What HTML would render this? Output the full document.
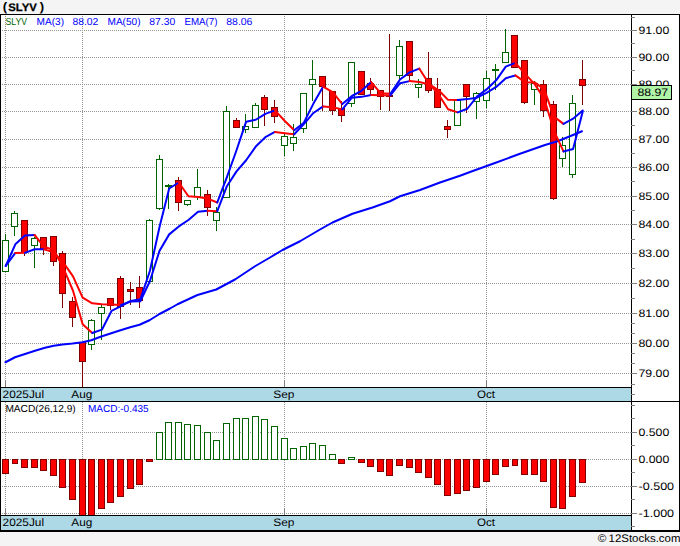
<!DOCTYPE html>
<html><head><meta charset="utf-8"><title>SLYV</title>
<style>html,body{margin:0;padding:0;background:#f4f4f4;overflow:hidden}body{width:680px;height:546px;font-family:"Liberation Sans",sans-serif}</style>
</head><body>
<svg width="680" height="546" viewBox="0 0 680 546" style="display:block">
<rect x="0" y="0" width="680" height="546" fill="#f4f4f4"/>
<rect x="0" y="14" width="680" height="518" fill="#ffffff" shape-rendering="crispEdges"/>
<g stroke="#969696" stroke-width="1" stroke-dasharray="1 1" shape-rendering="crispEdges" fill="none">
<line x1="0" y1="30.5" x2="631" y2="30.5"/>
<line x1="0" y1="57.5" x2="631" y2="57.5"/>
<line x1="0" y1="84.5" x2="631" y2="84.5"/>
<line x1="0" y1="111.5" x2="631" y2="111.5"/>
<line x1="0" y1="139.5" x2="631" y2="139.5"/>
<line x1="0" y1="167.5" x2="631" y2="167.5"/>
<line x1="0" y1="196.5" x2="631" y2="196.5"/>
<line x1="0" y1="224.5" x2="631" y2="224.5"/>
<line x1="0" y1="253.5" x2="631" y2="253.5"/>
<line x1="0" y1="283.5" x2="631" y2="283.5"/>
<line x1="0" y1="313.5" x2="631" y2="313.5"/>
<line x1="0" y1="343.5" x2="631" y2="343.5"/>
<line x1="0" y1="373.5" x2="631" y2="373.5"/>
<line x1="0" y1="432.5" x2="631" y2="432.5"/>
<line x1="0" y1="459.5" x2="631" y2="459.5"/>
<line x1="0" y1="486.5" x2="631" y2="486.5"/>
<line x1="0" y1="513.5" x2="631" y2="513.5"/>
<line x1="5.5" y1="14" x2="5.5" y2="387"/>
<line x1="5.5" y1="402" x2="5.5" y2="515"/>
<line x1="82.5" y1="14" x2="82.5" y2="387"/>
<line x1="82.5" y1="402" x2="82.5" y2="515"/>
<line x1="284.5" y1="14" x2="284.5" y2="387"/>
<line x1="284.5" y1="402" x2="284.5" y2="515"/>
<line x1="486.5" y1="14" x2="486.5" y2="387"/>
<line x1="486.5" y1="402" x2="486.5" y2="515"/>
</g>
<g stroke="#808080" stroke-width="1" shape-rendering="crispEdges">
<line x1="5.5" y1="381" x2="5.5" y2="387"/>
<line x1="5.5" y1="509" x2="5.5" y2="515"/>
<line x1="82.5" y1="381" x2="82.5" y2="387"/>
<line x1="82.5" y1="509" x2="82.5" y2="515"/>
<line x1="284.5" y1="381" x2="284.5" y2="387"/>
<line x1="284.5" y1="509" x2="284.5" y2="515"/>
<line x1="486.5" y1="381" x2="486.5" y2="387"/>
<line x1="486.5" y1="509" x2="486.5" y2="515"/>
</g>
<g shape-rendering="crispEdges" stroke-width="1">
<rect x="2.5" y="459.5" width="6" height="14" fill="#ff0000" stroke="#800000"/>
<rect x="12.5" y="459.5" width="5" height="4" fill="#ff0000" stroke="#800000"/>
<rect x="21.5" y="459.5" width="6" height="8" fill="#ff0000" stroke="#800000"/>
<rect x="31.5" y="459.5" width="6" height="8" fill="#ff0000" stroke="#800000"/>
<rect x="40.5" y="459.5" width="6" height="11" fill="#ff0000" stroke="#800000"/>
<rect x="50.5" y="459.5" width="6" height="16" fill="#ff0000" stroke="#800000"/>
<rect x="59.5" y="459.5" width="6" height="28" fill="#ff0000" stroke="#800000"/>
<rect x="69.5" y="459.5" width="6" height="40" fill="#ff0000" stroke="#800000"/>
<rect x="79.5" y="459.5" width="6" height="56" fill="#ff0000" stroke="#800000"/>
<rect x="88.5" y="459.5" width="6" height="56" fill="#ff0000" stroke="#800000"/>
<rect x="98.5" y="459.5" width="6" height="49" fill="#ff0000" stroke="#800000"/>
<rect x="107.5" y="459.5" width="6" height="43" fill="#ff0000" stroke="#800000"/>
<rect x="117.5" y="459.5" width="6" height="37" fill="#ff0000" stroke="#800000"/>
<rect x="127.5" y="459.5" width="6" height="29" fill="#ff0000" stroke="#800000"/>
<rect x="136.5" y="459.5" width="6" height="25" fill="#ff0000" stroke="#800000"/>
<rect x="146.5" y="459.5" width="6" height="2" fill="#ff0000" stroke="#800000"/>
<rect x="156.5" y="432.5" width="6" height="27" fill="#ffffff" stroke="#006400"/>
<rect x="165.5" y="422.5" width="6" height="37" fill="#ffffff" stroke="#006400"/>
<rect x="175.5" y="422.5" width="6" height="37" fill="#ffffff" stroke="#006400"/>
<rect x="184.5" y="424.5" width="6" height="35" fill="#ffffff" stroke="#006400"/>
<rect x="194.5" y="425.5" width="6" height="34" fill="#ffffff" stroke="#006400"/>
<rect x="204.5" y="432.5" width="6" height="27" fill="#ffffff" stroke="#006400"/>
<rect x="213.5" y="440.5" width="6" height="19" fill="#ffffff" stroke="#006400"/>
<rect x="223.5" y="423.5" width="6" height="36" fill="#ffffff" stroke="#006400"/>
<rect x="233.5" y="418.5" width="6" height="41" fill="#ffffff" stroke="#006400"/>
<rect x="242.5" y="418.5" width="6" height="41" fill="#ffffff" stroke="#006400"/>
<rect x="252.5" y="416.5" width="6" height="43" fill="#ffffff" stroke="#006400"/>
<rect x="261.5" y="419.5" width="6" height="40" fill="#ffffff" stroke="#006400"/>
<rect x="271.5" y="426.5" width="6" height="33" fill="#ffffff" stroke="#006400"/>
<rect x="281.5" y="438.5" width="6" height="21" fill="#ffffff" stroke="#006400"/>
<rect x="290.5" y="448.5" width="6" height="11" fill="#ffffff" stroke="#006400"/>
<rect x="300.5" y="446.5" width="6" height="13" fill="#ffffff" stroke="#006400"/>
<rect x="309.5" y="443.5" width="6" height="16" fill="#ffffff" stroke="#006400"/>
<rect x="319.5" y="445.5" width="6" height="14" fill="#ffffff" stroke="#006400"/>
<rect x="329.5" y="454.5" width="6" height="5" fill="#ffffff" stroke="#006400"/>
<rect x="338.5" y="459.5" width="6" height="4" fill="#ff0000" stroke="#800000"/>
<rect x="348.5" y="457.5" width="6" height="2" fill="#ffffff" stroke="#006400"/>
<rect x="358.5" y="459.5" width="6" height="3" fill="#ff0000" stroke="#800000"/>
<rect x="367.5" y="459.5" width="6" height="7" fill="#ff0000" stroke="#800000"/>
<rect x="377.5" y="459.5" width="6" height="12" fill="#ff0000" stroke="#800000"/>
<rect x="386.5" y="459.5" width="6" height="16" fill="#ff0000" stroke="#800000"/>
<rect x="396.5" y="459.5" width="6" height="6" fill="#ff0000" stroke="#800000"/>
<rect x="406.5" y="459.5" width="6" height="8" fill="#ff0000" stroke="#800000"/>
<rect x="415.5" y="459.5" width="6" height="13" fill="#ff0000" stroke="#800000"/>
<rect x="425.5" y="459.5" width="6" height="18" fill="#ff0000" stroke="#800000"/>
<rect x="434.5" y="459.5" width="6" height="25" fill="#ff0000" stroke="#800000"/>
<rect x="444.5" y="459.5" width="6" height="36" fill="#ff0000" stroke="#800000"/>
<rect x="454.5" y="459.5" width="6" height="34" fill="#ff0000" stroke="#800000"/>
<rect x="463.5" y="459.5" width="6" height="31" fill="#ff0000" stroke="#800000"/>
<rect x="473.5" y="459.5" width="6" height="28" fill="#ff0000" stroke="#800000"/>
<rect x="483.5" y="459.5" width="6" height="22" fill="#ff0000" stroke="#800000"/>
<rect x="492.5" y="459.5" width="6" height="15" fill="#ff0000" stroke="#800000"/>
<rect x="502.5" y="459.5" width="6" height="7" fill="#ff0000" stroke="#800000"/>
<rect x="512.5" y="459.5" width="5" height="6" fill="#ff0000" stroke="#800000"/>
<rect x="521.5" y="459.5" width="6" height="15" fill="#ff0000" stroke="#800000"/>
<rect x="531.5" y="459.5" width="6" height="15" fill="#ff0000" stroke="#800000"/>
<rect x="540.5" y="459.5" width="6" height="22" fill="#ff0000" stroke="#800000"/>
<rect x="550.5" y="459.5" width="6" height="48" fill="#ff0000" stroke="#800000"/>
<rect x="559.5" y="459.5" width="6" height="49" fill="#ff0000" stroke="#800000"/>
<rect x="569.5" y="459.5" width="6" height="37" fill="#ff0000" stroke="#800000"/>
<rect x="579.5" y="459.5" width="6" height="23" fill="#ff0000" stroke="#800000"/>
</g>
<g shape-rendering="crispEdges" stroke-width="1">
<line x1="5.5" y1="234" x2="5.5" y2="272" stroke="#006400"/>
<rect x="2.5" y="240.5" width="6" height="31" fill="#ffffff" stroke="#006400"/>
<line x1="14.5" y1="211" x2="14.5" y2="236" stroke="#006400"/>
<rect x="11.5" y="213.5" width="6" height="13" fill="#ffffff" stroke="#006400"/>
<line x1="24.5" y1="220" x2="24.5" y2="256" stroke="#800000"/>
<rect x="21.5" y="220.5" width="6" height="32" fill="#ff0000" stroke="#800000"/>
<line x1="34.5" y1="237" x2="34.5" y2="268" stroke="#006400"/>
<rect x="31.5" y="238.5" width="6" height="7" fill="#ffffff" stroke="#006400"/>
<line x1="43.5" y1="237" x2="43.5" y2="255" stroke="#800000"/>
<rect x="40.5" y="237.5" width="6" height="12" fill="#ff0000" stroke="#800000"/>
<line x1="53.5" y1="236" x2="53.5" y2="266" stroke="#800000"/>
<rect x="50.5" y="236.5" width="6" height="25" fill="#ff0000" stroke="#800000"/>
<line x1="62.5" y1="251" x2="62.5" y2="308" stroke="#800000"/>
<rect x="59.5" y="253.5" width="6" height="40" fill="#ff0000" stroke="#800000"/>
<line x1="72.5" y1="297" x2="72.5" y2="327" stroke="#800000"/>
<rect x="69.5" y="301.5" width="6" height="16" fill="#ff0000" stroke="#800000"/>
<line x1="82.5" y1="342" x2="82.5" y2="387" stroke="#800000"/>
<rect x="79.5" y="342.5" width="6" height="19" fill="#ff0000" stroke="#800000"/>
<line x1="91.5" y1="319" x2="91.5" y2="350" stroke="#006400"/>
<rect x="88.5" y="320.5" width="6" height="24" fill="#ffffff" stroke="#006400"/>
<line x1="101.5" y1="304" x2="101.5" y2="340" stroke="#006400"/>
<rect x="98.5" y="307.5" width="6" height="6" fill="#ffffff" stroke="#006400"/>
<line x1="110.5" y1="298" x2="110.5" y2="310" stroke="#800000"/>
<rect x="107.5" y="298.5" width="6" height="7" fill="#ff0000" stroke="#800000"/>
<line x1="120.5" y1="276" x2="120.5" y2="319" stroke="#800000"/>
<rect x="117.5" y="278.5" width="6" height="28" fill="#ff0000" stroke="#800000"/>
<line x1="130.5" y1="282" x2="130.5" y2="305" stroke="#800000"/>
<rect x="127.5" y="289.5" width="6" height="2" fill="#ff0000" stroke="#800000"/>
<line x1="139.5" y1="276" x2="139.5" y2="308" stroke="#800000"/>
<rect x="136.5" y="287.5" width="6" height="13" fill="#ff0000" stroke="#800000"/>
<line x1="149.5" y1="219" x2="149.5" y2="282" stroke="#006400"/>
<rect x="146.5" y="220.5" width="6" height="61" fill="#ffffff" stroke="#006400"/>
<line x1="159.5" y1="155" x2="159.5" y2="210" stroke="#006400"/>
<rect x="156.5" y="159.5" width="6" height="49" fill="#ffffff" stroke="#006400"/>
<line x1="168.5" y1="184" x2="168.5" y2="209" stroke="#006400"/>
<line x1="165" y1="185.5" x2="172" y2="185.5" stroke="#006400" stroke-width="2"/>
<line x1="178.5" y1="177" x2="178.5" y2="211" stroke="#800000"/>
<rect x="175.5" y="180.5" width="6" height="22" fill="#ff0000" stroke="#800000"/>
<line x1="187.5" y1="200" x2="187.5" y2="206" stroke="#006400"/>
<rect x="184.5" y="200.5" width="6" height="4" fill="#ffffff" stroke="#006400"/>
<line x1="197.5" y1="169" x2="197.5" y2="200" stroke="#006400"/>
<rect x="194.5" y="187.5" width="6" height="9" fill="#ffffff" stroke="#006400"/>
<line x1="207.5" y1="190" x2="207.5" y2="216" stroke="#800000"/>
<rect x="204.5" y="194.5" width="6" height="13" fill="#ff0000" stroke="#800000"/>
<line x1="216.5" y1="207" x2="216.5" y2="231" stroke="#006400"/>
<rect x="213.5" y="212.5" width="6" height="8" fill="#ffffff" stroke="#006400"/>
<line x1="226.5" y1="106" x2="226.5" y2="198" stroke="#006400"/>
<rect x="223.5" y="111.5" width="6" height="86" fill="#ffffff" stroke="#006400"/>
<line x1="236.5" y1="118" x2="236.5" y2="128" stroke="#800000"/>
<rect x="233.5" y="120.5" width="6" height="7" fill="#ff0000" stroke="#800000"/>
<line x1="245.5" y1="114" x2="245.5" y2="133" stroke="#006400"/>
<rect x="242.5" y="126.5" width="6" height="3" fill="#ffffff" stroke="#006400"/>
<line x1="255.5" y1="103" x2="255.5" y2="128" stroke="#006400"/>
<rect x="252.5" y="105.5" width="6" height="22" fill="#ffffff" stroke="#006400"/>
<line x1="264.5" y1="95" x2="264.5" y2="126" stroke="#800000"/>
<rect x="261.5" y="97.5" width="6" height="12" fill="#ff0000" stroke="#800000"/>
<line x1="274.5" y1="100" x2="274.5" y2="123" stroke="#800000"/>
<rect x="271.5" y="107.5" width="6" height="9" fill="#ff0000" stroke="#800000"/>
<line x1="284.5" y1="134" x2="284.5" y2="156" stroke="#006400"/>
<rect x="281.5" y="136.5" width="6" height="9" fill="#ffffff" stroke="#006400"/>
<line x1="293.5" y1="124" x2="293.5" y2="151" stroke="#006400"/>
<rect x="290.5" y="137.5" width="6" height="6" fill="#ffffff" stroke="#006400"/>
<line x1="303.5" y1="93" x2="303.5" y2="133" stroke="#006400"/>
<rect x="300.5" y="93.5" width="6" height="35" fill="#ffffff" stroke="#006400"/>
<line x1="312.5" y1="60" x2="312.5" y2="101" stroke="#006400"/>
<rect x="309.5" y="79.5" width="6" height="5" fill="#ffffff" stroke="#006400"/>
<line x1="322.5" y1="76" x2="322.5" y2="111" stroke="#800000"/>
<rect x="319.5" y="76.5" width="6" height="10" fill="#ff0000" stroke="#800000"/>
<line x1="332.5" y1="91" x2="332.5" y2="115" stroke="#800000"/>
<rect x="329.5" y="91.5" width="6" height="19" fill="#ff0000" stroke="#800000"/>
<line x1="341.5" y1="101" x2="341.5" y2="122" stroke="#800000"/>
<rect x="338.5" y="108.5" width="6" height="7" fill="#ff0000" stroke="#800000"/>
<line x1="351.5" y1="62" x2="351.5" y2="107" stroke="#006400"/>
<rect x="348.5" y="62.5" width="6" height="41" fill="#ffffff" stroke="#006400"/>
<line x1="361.5" y1="71" x2="361.5" y2="95" stroke="#800000"/>
<rect x="358.5" y="71.5" width="6" height="23" fill="#ff0000" stroke="#800000"/>
<line x1="370.5" y1="78" x2="370.5" y2="94" stroke="#800000"/>
<rect x="367.5" y="83.5" width="6" height="6" fill="#ff0000" stroke="#800000"/>
<line x1="380.5" y1="90" x2="380.5" y2="110" stroke="#800000"/>
<rect x="377.5" y="90.5" width="6" height="6" fill="#ff0000" stroke="#800000"/>
<line x1="389.5" y1="34" x2="389.5" y2="111" stroke="#800000"/>
<rect x="386.5" y="95.5" width="6" height="1" fill="#ff0000" stroke="#800000"/>
<line x1="399.5" y1="40" x2="399.5" y2="80" stroke="#006400"/>
<rect x="396.5" y="46.5" width="6" height="29" fill="#ffffff" stroke="#006400"/>
<line x1="409.5" y1="41" x2="409.5" y2="80" stroke="#800000"/>
<rect x="406.5" y="41.5" width="6" height="34" fill="#ff0000" stroke="#800000"/>
<line x1="418.5" y1="79" x2="418.5" y2="98" stroke="#006400"/>
<rect x="415.5" y="84.5" width="6" height="3" fill="#ffffff" stroke="#006400"/>
<line x1="428.5" y1="52" x2="428.5" y2="93" stroke="#800000"/>
<rect x="425.5" y="78.5" width="6" height="12" fill="#ff0000" stroke="#800000"/>
<line x1="437.5" y1="78" x2="437.5" y2="108" stroke="#800000"/>
<rect x="434.5" y="89.5" width="6" height="18" fill="#ff0000" stroke="#800000"/>
<line x1="447.5" y1="120" x2="447.5" y2="138" stroke="#800000"/>
<rect x="444.5" y="126.5" width="6" height="3" fill="#ff0000" stroke="#800000"/>
<line x1="457.5" y1="100" x2="457.5" y2="126" stroke="#006400"/>
<rect x="454.5" y="100.5" width="6" height="25" fill="#ffffff" stroke="#006400"/>
<line x1="466.5" y1="84" x2="466.5" y2="113" stroke="#800000"/>
<rect x="463.5" y="84.5" width="6" height="12" fill="#ff0000" stroke="#800000"/>
<line x1="476.5" y1="92" x2="476.5" y2="119" stroke="#006400"/>
<rect x="473.5" y="93.5" width="6" height="8" fill="#ffffff" stroke="#006400"/>
<line x1="486.5" y1="71" x2="486.5" y2="108" stroke="#006400"/>
<rect x="483.5" y="78.5" width="6" height="22" fill="#ffffff" stroke="#006400"/>
<line x1="495.5" y1="64" x2="495.5" y2="90" stroke="#006400"/>
<line x1="492" y1="69.5" x2="499" y2="69.5" stroke="#006400" stroke-width="2"/>
<line x1="505.5" y1="29" x2="505.5" y2="63" stroke="#006400"/>
<rect x="502.5" y="52.5" width="6" height="10" fill="#ffffff" stroke="#006400"/>
<line x1="514.5" y1="35" x2="514.5" y2="68" stroke="#800000"/>
<rect x="511.5" y="35.5" width="6" height="32" fill="#ff0000" stroke="#800000"/>
<line x1="524.5" y1="60" x2="524.5" y2="104" stroke="#800000"/>
<rect x="521.5" y="60.5" width="6" height="42" fill="#ff0000" stroke="#800000"/>
<line x1="534.5" y1="81" x2="534.5" y2="105" stroke="#006400"/>
<rect x="531.5" y="83.5" width="6" height="6" fill="#ffffff" stroke="#006400"/>
<line x1="543.5" y1="80" x2="543.5" y2="117" stroke="#800000"/>
<rect x="540.5" y="84.5" width="6" height="26" fill="#ff0000" stroke="#800000"/>
<line x1="553.5" y1="101" x2="553.5" y2="200" stroke="#800000"/>
<rect x="550.5" y="104.5" width="6" height="94" fill="#ff0000" stroke="#800000"/>
<line x1="562.5" y1="137" x2="562.5" y2="167" stroke="#006400"/>
<rect x="559.5" y="145.5" width="6" height="13" fill="#ffffff" stroke="#006400"/>
<line x1="572.5" y1="95" x2="572.5" y2="178" stroke="#006400"/>
<rect x="569.5" y="103.5" width="6" height="71" fill="#ffffff" stroke="#006400"/>
<line x1="582.5" y1="60" x2="582.5" y2="105" stroke="#800000"/>
<rect x="579.5" y="79.5" width="6" height="6" fill="#ff0000" stroke="#800000"/>
</g>
<g fill="none" stroke-width="2" stroke-linecap="round" stroke-linejoin="round">
<polyline points="5.50,362.25 15.00,357.25 25.00,354.00 35.00,350.75 45.00,347.75 53.75,345.75 62.50,344.50 72.50,343.50 82.50,342.25 91.25,340.25 101.25,336.50 111.25,333.25 120.50,330.25 130.25,327.25 139.50,324.75 149.50,320.25 159.50,314.00 170.00,308.50 177.50,304.25 197.50,295.00 216.25,289.50 235.00,279.50 255.00,266.25 270.00,257.50 282.50,250.00 300.00,241.25 320.00,229.50 332.50,222.50 352.50,213.75 372.50,207.50 390.00,201.25 400.00,196.25 420.00,190.00 440.00,182.50 460.00,175.75 470.00,172.00 495.00,163.00 520.00,153.75 545.00,145.00 557.50,141.25 570.00,136.25 582.00,131.25" stroke="#0000ff"/>
<polyline points="5.70,266.00 15.32,252.94" stroke="#0000ff"/>
<polyline points="15.32,252.94 24.93,252.83" stroke="#ff0000"/>
<polyline points="24.93,252.83 34.55,249.31 44.17,249.36" stroke="#0000ff"/>
<polyline points="44.17,249.36 53.79,252.33 63.40,262.68 73.02,276.33 82.64,297.62 92.25,303.28 101.87,304.27 111.49,304.52 121.10,304.89" stroke="#ff0000"/>
<polyline points="121.10,304.89 130.72,301.54 140.34,301.22 149.96,281.04 159.57,250.65 169.19,234.37 178.81,226.40 188.42,219.99 198.04,211.86 207.66,210.77" stroke="#0000ff"/>
<polyline points="207.66,210.77 217.27,211.21" stroke="#ff0000"/>
<polyline points="217.27,211.21 226.89,186.22 236.51,171.41 246.12,160.25 255.74,146.56 265.36,137.23 274.98,131.99" stroke="#0000ff"/>
<polyline points="274.98,131.99 284.59,133.18 294.21,134.26" stroke="#ff0000"/>
<polyline points="294.21,134.26 303.83,124.13 313.44,112.97 323.06,106.42" stroke="#0000ff"/>
<polyline points="323.06,106.42 332.68,107.31 342.30,109.36" stroke="#ff0000"/>
<polyline points="342.30,109.36 351.91,97.64 361.53,96.86 371.15,94.96" stroke="#0000ff"/>
<polyline points="371.15,94.96 380.76,95.28 390.38,95.46" stroke="#ff0000"/>
<polyline points="390.38,95.46 400.00,83.16 409.61,81.12" stroke="#0000ff"/>
<polyline points="409.61,81.12 419.23,81.96 428.85,84.16 438.47,90.00 448.08,99.87 457.70,99.90" stroke="#ff0000"/>
<polyline points="457.70,99.90 467.32,99.12 476.93,97.65 486.55,92.80 496.17,86.97 505.78,78.23 515.40,75.42" stroke="#0000ff"/>
<polyline points="515.40,75.42 525.02,82.19 534.64,82.39 544.25,89.42 553.87,116.63 563.49,123.85" stroke="#ff0000"/>
<polyline points="563.49,123.85 573.10,118.70 582.72,110.46" stroke="#0000ff"/>
<polyline points="5.70,266.00 15.32,244.33 24.93,235.58 34.55,235.00" stroke="#0000ff"/>
<polyline points="34.55,235.00 44.17,246.92 53.79,249.83 63.40,268.17 73.02,290.75 82.64,324.17 92.25,333.00" stroke="#ff0000"/>
<polyline points="92.25,333.00 101.87,329.67 111.49,310.92 121.10,306.17 130.72,300.92 140.34,299.25 149.96,270.75 159.57,226.75 169.19,188.50 178.81,182.50" stroke="#0000ff"/>
<polyline points="178.81,182.50 188.42,196.25 198.04,196.92 207.66,198.58 217.27,202.50" stroke="#ff0000"/>
<polyline points="217.27,202.50 226.89,177.08 236.51,150.25 246.12,121.67 255.74,119.75 265.36,113.83 274.98,110.33" stroke="#0000ff"/>
<polyline points="274.98,110.33 284.59,120.75 294.21,130.17" stroke="#ff0000"/>
<polyline points="294.21,130.17 303.83,122.67 313.44,103.58 323.06,86.67" stroke="#0000ff"/>
<polyline points="323.06,86.67 332.68,92.08 342.30,104.08" stroke="#ff0000"/>
<polyline points="342.30,104.08 351.91,96.00 361.53,90.83 371.15,82.08" stroke="#0000ff"/>
<polyline points="371.15,82.08 380.76,93.33 390.38,93.83" stroke="#ff0000"/>
<polyline points="390.38,93.83 400.00,79.50 409.61,72.42 419.23,68.58" stroke="#0000ff"/>
<polyline points="419.23,68.58 428.85,83.42 438.47,94.25 448.08,109.25 457.70,112.33" stroke="#ff0000"/>
<polyline points="457.70,112.33 467.32,108.75 476.93,96.67 486.55,89.42 496.17,80.33 505.78,66.58 515.40,62.83" stroke="#0000ff"/>
<polyline points="515.40,62.83 525.02,73.83 534.64,84.17 544.25,98.67 553.87,130.58 563.49,151.42" stroke="#ff0000"/>
<polyline points="563.49,151.42 573.10,149.00 582.72,111.50" stroke="#0000ff"/>
</g>
<g shape-rendering="crispEdges">
<rect x="0" y="387" width="632" height="15" fill="#add8e6"/>
<rect x="0" y="387" width="632" height="1" fill="#000"/>
<rect x="0" y="515" width="632" height="16" fill="#add8e6"/>
<rect x="0" y="515" width="632" height="1" fill="#000"/>
<rect x="0" y="401" width="680" height="1" fill="#000"/>
<rect x="0" y="14" width="680" height="1" fill="#000"/>
<rect x="0" y="530" width="680" height="2" fill="#000"/>
<rect x="0" y="14" width="1" height="518" fill="#000"/>
<rect x="679" y="14" width="1" height="518" fill="#000"/>
<rect x="631" y="14" width="1" height="518" fill="#000"/>
<g fill="#808080">
<rect x="631" y="30" width="6" height="1"/>
<rect x="631" y="57" width="6" height="1"/>
<rect x="631" y="84" width="6" height="1"/>
<rect x="631" y="111" width="6" height="1"/>
<rect x="631" y="139" width="6" height="1"/>
<rect x="631" y="167" width="6" height="1"/>
<rect x="631" y="196" width="6" height="1"/>
<rect x="631" y="224" width="6" height="1"/>
<rect x="631" y="253" width="6" height="1"/>
<rect x="631" y="283" width="6" height="1"/>
<rect x="631" y="313" width="6" height="1"/>
<rect x="631" y="343" width="6" height="1"/>
<rect x="631" y="373" width="6" height="1"/>
<rect x="631" y="432" width="6" height="1"/>
<rect x="631" y="459" width="6" height="1"/>
<rect x="631" y="486" width="6" height="1"/>
<rect x="631" y="513" width="6" height="1"/>
<rect x="631" y="17" width="4" height="1"/>
<rect x="631" y="43" width="4" height="1"/>
<rect x="631" y="70" width="4" height="1"/>
<rect x="631" y="98" width="4" height="1"/>
<rect x="631" y="125" width="4" height="1"/>
<rect x="631" y="153" width="4" height="1"/>
<rect x="631" y="181" width="4" height="1"/>
<rect x="631" y="210" width="4" height="1"/>
<rect x="631" y="239" width="4" height="1"/>
<rect x="631" y="268" width="4" height="1"/>
<rect x="631" y="298" width="4" height="1"/>
<rect x="631" y="323" width="4" height="1"/>
<rect x="631" y="333" width="4" height="1"/>
<rect x="631" y="353" width="4" height="1"/>
<rect x="631" y="363" width="4" height="1"/>
<rect x="631" y="384" width="4" height="1"/>
<rect x="631" y="394" width="4" height="1"/>
<rect x="631" y="405" width="4" height="1"/>
<rect x="631" y="418" width="4" height="1"/>
<rect x="631" y="445" width="4" height="1"/>
<rect x="631" y="472" width="4" height="1"/>
<rect x="631" y="499" width="4" height="1"/>
<rect x="631" y="526" width="4" height="1"/>
</g>
</g>
<g font-family="'Liberation Sans', sans-serif" text-rendering="geometricPrecision">
<g font-weight="bold">
<text x="2.7" y="10.6" font-size="12.4" textLength="4.4" lengthAdjust="spacingAndGlyphs">(</text>
<text x="8.3" y="10.6" font-size="10.9" stroke="#000" stroke-width="0.25" textLength="28.6" lengthAdjust="spacingAndGlyphs">SLYV</text>
<text x="39.7" y="10.6" font-size="12.4" textLength="4.4" lengthAdjust="spacingAndGlyphs">)</text>
</g>
<text x="5.4" y="25.0" font-size="10.2" fill="#006400" font-weight="normal" text-anchor="start" textLength="21.6" lengthAdjust="spacingAndGlyphs">SLYV</text>
<text x="36.6" y="25.0" font-size="10.2" fill="#0000ff" font-weight="normal" text-anchor="start" textLength="27.4" lengthAdjust="spacingAndGlyphs">MA(3)</text>
<text x="72.4" y="25.0" font-size="10.2" fill="#0000ff" font-weight="normal" text-anchor="start" textLength="26" lengthAdjust="spacingAndGlyphs">88.02</text>
<text x="107.5" y="25.0" font-size="10.2" fill="#0000ff" font-weight="normal" text-anchor="start" textLength="33" lengthAdjust="spacingAndGlyphs">MA(50)</text>
<text x="149.25" y="25.0" font-size="10.2" fill="#0000ff" font-weight="normal" text-anchor="start" textLength="26" lengthAdjust="spacingAndGlyphs">87.30</text>
<text x="184.5" y="25.0" font-size="10.2" fill="#0000ff" font-weight="normal" text-anchor="start" textLength="33" lengthAdjust="spacingAndGlyphs">EMA(7)</text>
<text x="226.25" y="25.0" font-size="10.2" fill="#0000ff" font-weight="normal" text-anchor="start" textLength="26.2" lengthAdjust="spacingAndGlyphs">88.06</text>
<text x="5.4" y="412.0" font-size="10.2" fill="#000" font-weight="normal" text-anchor="start" textLength="70.3" lengthAdjust="spacingAndGlyphs">MACD(26,12,9)</text>
<text x="88" y="412.0" font-size="10.2" fill="#0000ff" font-weight="normal" text-anchor="start" textLength="60.7" lengthAdjust="spacingAndGlyphs">MACD:-0.435</text>
<text x="2.6" y="398.2" font-size="10.9" fill="#000" font-weight="normal" text-anchor="start" textLength="41.5" lengthAdjust="spacingAndGlyphs">2025Jul</text>
<text x="71.3" y="398.2" font-size="10.9" fill="#000" font-weight="normal" text-anchor="start" textLength="21" lengthAdjust="spacingAndGlyphs">Aug</text>
<text x="273.3" y="398.2" font-size="10.9" fill="#000" font-weight="normal" text-anchor="start" textLength="21.2" lengthAdjust="spacingAndGlyphs">Sep</text>
<text x="477" y="398.2" font-size="10.9" fill="#000" font-weight="normal" text-anchor="start" textLength="18" lengthAdjust="spacingAndGlyphs">Oct</text>
<text x="2.6" y="526.1" font-size="10.9" fill="#000" font-weight="normal" text-anchor="start" textLength="41.5" lengthAdjust="spacingAndGlyphs">2025Jul</text>
<text x="71.3" y="526.1" font-size="10.9" fill="#000" font-weight="normal" text-anchor="start" textLength="21" lengthAdjust="spacingAndGlyphs">Aug</text>
<text x="273.3" y="526.1" font-size="10.9" fill="#000" font-weight="normal" text-anchor="start" textLength="21.2" lengthAdjust="spacingAndGlyphs">Sep</text>
<text x="477" y="526.1" font-size="10.9" fill="#000" font-weight="normal" text-anchor="start" textLength="18" lengthAdjust="spacingAndGlyphs">Oct</text>
<text x="638.5" y="34.1" font-size="10.9" fill="#000" font-weight="normal" text-anchor="start" textLength="30.8" lengthAdjust="spacingAndGlyphs">91.00</text>
<text x="638.5" y="61.1" font-size="10.9" fill="#000" font-weight="normal" text-anchor="start" textLength="30.8" lengthAdjust="spacingAndGlyphs">90.00</text>
<text x="638.5" y="88.1" font-size="10.9" fill="#000" font-weight="normal" text-anchor="start" textLength="30.8" lengthAdjust="spacingAndGlyphs">89.00</text>
<text x="638.5" y="115.1" font-size="10.9" fill="#000" font-weight="normal" text-anchor="start" textLength="30.8" lengthAdjust="spacingAndGlyphs">88.00</text>
<text x="638.5" y="143.1" font-size="10.9" fill="#000" font-weight="normal" text-anchor="start" textLength="30.8" lengthAdjust="spacingAndGlyphs">87.00</text>
<text x="638.5" y="171.1" font-size="10.9" fill="#000" font-weight="normal" text-anchor="start" textLength="30.8" lengthAdjust="spacingAndGlyphs">86.00</text>
<text x="638.5" y="200.1" font-size="10.9" fill="#000" font-weight="normal" text-anchor="start" textLength="30.8" lengthAdjust="spacingAndGlyphs">85.00</text>
<text x="638.5" y="228.1" font-size="10.9" fill="#000" font-weight="normal" text-anchor="start" textLength="30.8" lengthAdjust="spacingAndGlyphs">84.00</text>
<text x="638.5" y="257.1" font-size="10.9" fill="#000" font-weight="normal" text-anchor="start" textLength="30.8" lengthAdjust="spacingAndGlyphs">83.00</text>
<text x="638.5" y="287.1" font-size="10.9" fill="#000" font-weight="normal" text-anchor="start" textLength="30.8" lengthAdjust="spacingAndGlyphs">82.00</text>
<text x="638.5" y="317.1" font-size="10.9" fill="#000" font-weight="normal" text-anchor="start" textLength="30.8" lengthAdjust="spacingAndGlyphs">81.00</text>
<text x="638.5" y="347.1" font-size="10.9" fill="#000" font-weight="normal" text-anchor="start" textLength="30.8" lengthAdjust="spacingAndGlyphs">80.00</text>
<text x="638.5" y="377.1" font-size="10.9" fill="#000" font-weight="normal" text-anchor="start" textLength="30.8" lengthAdjust="spacingAndGlyphs">79.00</text>
<text x="638.5" y="436.1" font-size="10.9" fill="#000" font-weight="normal" text-anchor="start" textLength="30.8" lengthAdjust="spacingAndGlyphs">0.500</text>
<text x="638.5" y="463.1" font-size="10.9" fill="#000" font-weight="normal" text-anchor="start" textLength="30.8" lengthAdjust="spacingAndGlyphs">0.000</text>
<text x="638.5" y="490.1" font-size="10.9" fill="#000" font-weight="normal" text-anchor="start" textLength="35.6" lengthAdjust="spacingAndGlyphs">-0.500</text>
<text x="638.5" y="517.1" font-size="10.9" fill="#000" font-weight="normal" text-anchor="start" textLength="35.6" lengthAdjust="spacingAndGlyphs">-1.000</text>
<rect x="631.5" y="85.5" width="40" height="14" fill="#b0f4a8" stroke="#000" stroke-width="1" shape-rendering="crispEdges"/>
<text x="637.4" y="96.1" font-size="10.9" fill="#000" font-weight="normal" text-anchor="start" textLength="30.8" lengthAdjust="spacingAndGlyphs">88.97</text>
<text x="597.7" y="541.7" font-size="11.2" fill="#000" font-weight="normal" text-anchor="start" textLength="8.6" lengthAdjust="spacingAndGlyphs">©</text>
<text x="608.5" y="541.7" font-size="11" fill="#000" textLength="72" lengthAdjust="spacingAndGlyphs">12Stocks.com</text>
</g>
</svg>
</body></html>
